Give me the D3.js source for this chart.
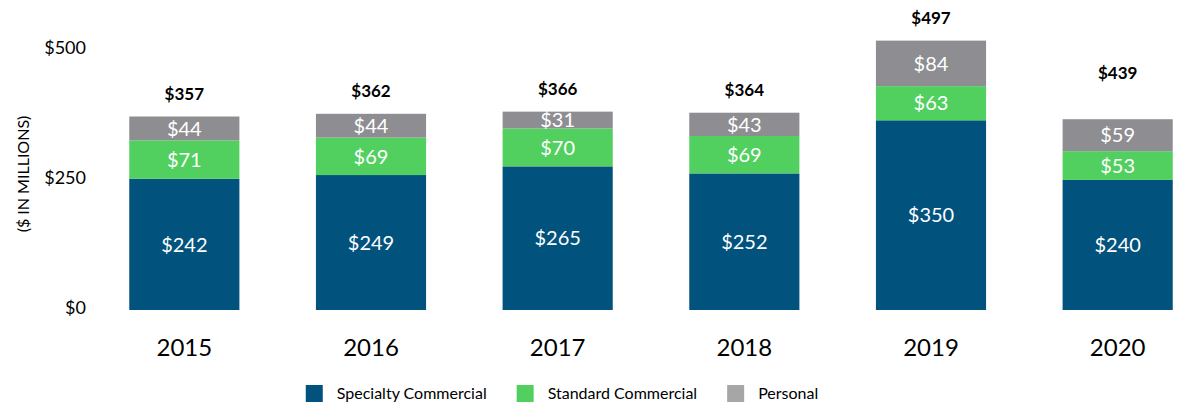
<!DOCTYPE html>
<html>
<head>
<meta charset="utf-8">
<script src="https://cdn.jsdelivr.net/npm/d3@7"></script>
<style>
  body { margin: 0; background: #fff; }
  svg { display: block; }
</style>
</head>
<body>
<div id="chart"></div>
<script>
var years = ['2015', '2016', '2017', '2018', '2019', '2020'];
var specialty = [242, 249, 265, 252, 350, 240];
var standard = [71, 69, 70, 69, 63, 53];
var personal = [44, 44, 31, 43, 84, 59];
var totals = [357, 362, 366, 364, 497, 439];
var seriesNames = ['Specialty Commercial', 'Standard Commercial', 'Personal'];
var yTicks = [0, 250, 500];

var width = 1178;
var height = 403;
var mainFont = 'Lato, "Open Sans", sans-serif';

var colors = ['#02527e', '#51d060', '#8e8e92'];
var legendColors = ['#02527e', '#51d060', '#a6a6a6'];

window.onload = function() {
    render();
};

function render() {
    var svg = d3.select('#chart').append('svg')
        .attr('width', width)
        .attr('height', height);

    var x = d3.scaleBand()
        .domain(years)
        .range([91, 1211])
        .paddingInner(0.41)
        .paddingOuter(0.205);

    // bars
    var y = d3.scaleLinear().domain([0, 500]).range([310, 39]);
    // the value labels on the left sit a little off the bar scale in the original
    var yAxisScale = d3.scaleLinear().domain([0, 500]).range([308, 48]);

    var rows = years.map(function(yr, i) {
        return { year: yr, s0: specialty[i], s1: standard[i], s2: personal[i], total: totals[i] };
    });
    var stack = d3.stack().keys(['s0', 's1', 's2'])(rows);

    var layers = svg.selectAll('g.layer')
        .data(stack)
        .enter().append('g')
        .attr('class', 'layer')
        .attr('fill', function(d, i) { return colors[i]; });

    layers.selectAll('rect')
        .data(function(d) { return d; })
        .enter().append('rect')
        .attr('x', function(d) { return x(d.data.year); })
        .attr('y', function(d) { return y(d[1]); })
        .attr('width', x.bandwidth())
        .attr('height', function(d) { return y(d[0]) - y(d[1]); });

    layers.selectAll('text')
        .data(function(d) { return d; })
        .enter().append('text')
        .attr('x', function(d) { return x(d.data.year) + x.bandwidth() / 2; })
        .attr('y', function(d) { return (y(d[0]) + y(d[1])) / 2; })
        .attr('dy', '0.36em')
        .attr('text-anchor', 'middle')
        .style('font-family', mainFont)
        .style('font-size', '20px')
        .style('fill', '#fff')
        .text(function(d) { return '$' + (d[1] - d[0]); });

    // total labels
    svg.selectAll('text.total')
        .data(rows)
        .enter().append('text')
        .attr('class', 'total')
        .attr('x', function(d) { return x(d.year) + x.bandwidth() / 2; })
        .attr('y', function(d) {
            var top = d.s0 + d.s1 + d.s2;
            return (y(top) + y(d.total)) / 2 - 23;
        })
        .attr('dy', '0.36em')
        .attr('text-anchor', 'middle')
        .style('font-family', mainFont)
        .style('font-size', '17px')
        .style('font-weight', 'bold')
        .style('fill', '#000')
        .text(function(d) { return '$' + d.total; });

    // y axis labels
    var yAxis = svg.append('g')
        .attr('transform', 'translate(86,0)')
        .call(d3.axisLeft(yAxisScale).tickValues(yTicks).tickSize(0).tickPadding(0)
            .tickFormat(function(d) { return '$' + d; }));
    yAxis.select('.domain').remove();
    yAxis.selectAll('text')
        .style('font-family', mainFont)
        .style('font-size', '18px')
        .style('fill', '#000');

    svg.append('text')
        .attr('transform', 'translate(23,174) rotate(-90)')
        .attr('dy', '0.36em')
        .attr('text-anchor', 'middle')
        .style('font-family', mainFont)
        .style('font-size', '16px')
        .style('fill', '#000')
        .text('($ IN MILLIONS)');

    // x axis labels
    var xAxis = svg.append('g')
        .attr('transform', 'translate(0,330)')
        .call(d3.axisBottom(x).tickSize(0).tickPadding(0));
    xAxis.select('.domain').remove();
    xAxis.selectAll('text')
        .attr('dy', '0.36em')
        .attr('y', 17)
        .style('font-family', mainFont)
        .style('font-size', '24px')
        .style('fill', '#000');

    makeLegend(svg);
}

function makeLegend(svg) {
    var legend = svg.append('g');
    var box = 17;
    var curX = 0;
    seriesNames.forEach(function(name, i) {
        var item = legend.append('g').attr('transform', 'translate(' + curX + ',0)');
        item.append('rect')
            .attr('x', 0)
            .attr('y', 385)
            .attr('width', box)
            .attr('height', box)
            .attr('fill', legendColors[i]);
        var t = item.append('text')
            .attr('x', box + 14)
            .attr('y', 393.5)
            .attr('dy', '0.36em')
            .style('font-family', mainFont)
            .style('font-size', '16px')
            .style('fill', '#000')
            .text(name);
        curX += box + 14 + t.node().getComputedTextLength() + 30;
    });
    var w = curX - 30;
    legend.attr('transform', 'translate(' + (562 - w / 2) + ',0)');
}
</script>
</body>
</html>
